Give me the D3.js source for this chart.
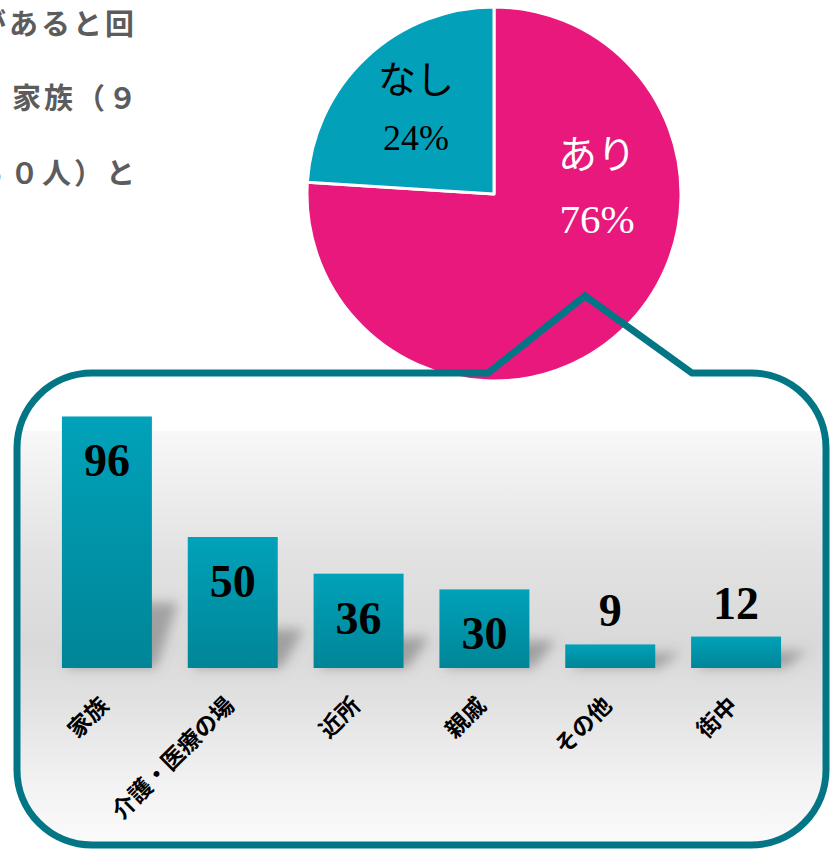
<!DOCTYPE html>
<html>
<head>
<meta charset="utf-8">
<script src="https://cdn.jsdelivr.net/npm/d3@7"></script>
<style>
  html, body { margin: 0; padding: 0; background: #ffffff; }
  svg { display: block; }
</style>
</head>
<body>
<svg id="chart" width="836" height="850"></svg>
<script>
// ---- data ----
const pieLabels = ["あり", "なし"];
const pieValues = [76, 24];
const pieColors = ["#e8187c", "#02a0b9"];

const barCategories = ["家族", "介護・医療の場", "近所", "親戚", "その他", "街中"];
const barValues = [96, 50, 36, 30, 9, 12];

const noteLines = ["があると回", "家族（９", "５０人）と"];

// ---- canvas ----
const svg = d3.select("#chart");
const defs = svg.append("defs");

// bar fill gradient
const barGrad = defs.append("linearGradient")
  .attr("id", "barGrad").attr("x1", 0).attr("y1", 0).attr("x2", 0).attr("y2", 1);
barGrad.append("stop").attr("offset", "0%").attr("stop-color", "#00a2ba");
barGrad.append("stop").attr("offset", "100%").attr("stop-color", "#008597");

// panel background gradient
const panelGrad = defs.append("linearGradient")
  .attr("id", "panelGrad").attr("x1", 0).attr("y1", 0).attr("x2", 0).attr("y2", 1);
[[0, "#f8f8f8"], [0.3, "#e2e2e2"], [0.52, "#d9d9d9"], [0.65, "#e1e1e1"], [0.85, "#f2f2f2"], [1, "#fbfbfb"]]
  .forEach(([o, c]) => panelGrad.append("stop").attr("offset", o).attr("stop-color", c));

// soft shadow blur
defs.append("filter").attr("id", "shadowBlur")
  .attr("x", "-50%").attr("y", "-50%").attr("width", "200%").attr("height", "200%")
  .append("feGaussianBlur").attr("stdDeviation", 6);

// ---- side note text ----
const noteX = [-23, 12, -22];
const noteY = [35, 109, 184];
svg.append("g").selectAll("text").data(noteLines).join("text")
  .attr("x", (d, i) => noteX[i])
  .attr("y", (d, i) => noteY[i])
  .attr("font-family", "'Noto Sans CJK JP', sans-serif")
  .attr("font-weight", 700)
  .attr("font-size", 29)
  .attr("letter-spacing", 3)
  .attr("fill", "#5c5c5c")
  .text(d => d);

// ---- pie ----
const pieCx = 494, pieCy = 194, pieR = 187;
const pie = d3.pie().sort(null).value(d => d)(pieValues);
const arc = d3.arc().innerRadius(0).outerRadius(pieR);

const pieG = svg.append("g").attr("transform", `translate(${pieCx},${pieCy})`);
pieG.selectAll("path").data(pie).join("path")
  .attr("d", arc)
  .attr("fill", (d, i) => pieColors[i])
  .attr("stroke", "#ffffff")
  .attr("stroke-width", 3)
  .attr("stroke-linejoin", "round");

// label offsets from the pie centre: [name, percent]
const pieLabelPos = [
  { x: 103, nameY: -26, pctY: 39, color: "#ffffff", nameSize: 39, pctSize: 41 },
  { x: -78, nameY: -101, pctY: -44, color: "#000000", nameSize: 38, pctSize: 36 }
];
pieG.selectAll("text.name").data(pie).join("text")
  .attr("class", "name")
  .attr("x", (d, i) => pieLabelPos[i].x)
  .attr("y", (d, i) => pieLabelPos[i].nameY)
  .attr("text-anchor", "middle")
  .attr("font-family", "'Noto Sans CJK JP', sans-serif")
  .attr("font-size", (d, i) => pieLabelPos[i].nameSize)
  .attr("fill", (d, i) => pieLabelPos[i].color)
  .text((d, i) => pieLabels[i]);
pieG.selectAll("text.pct").data(pie).join("text")
  .attr("class", "pct")
  .attr("x", (d, i) => pieLabelPos[i].x)
  .attr("y", (d, i) => pieLabelPos[i].pctY)
  .attr("text-anchor", "middle")
  .attr("font-family", "'Liberation Serif', serif")
  .attr("font-size", (d, i) => pieLabelPos[i].pctSize)
  .attr("fill", (d, i) => pieLabelPos[i].color)
  .text(d => d.value + "%");

// ---- callout frame ----
const L = 17, R = 826, T = 373, B = 845, cr = 75;
const notch = { left: 488, peakX: 585, peakY: 296, right: 692 };
const frame = d3.path();
frame.moveTo(L, T + cr);
frame.arcTo(L, T, L + cr, T, cr);
frame.lineTo(notch.left, T);
frame.lineTo(notch.peakX, notch.peakY);
frame.lineTo(notch.right, T);
frame.lineTo(R - cr, T);
frame.arcTo(R, T, R, T + cr, cr);
frame.lineTo(R, B - cr);
frame.arcTo(R, B, R - cr, B, cr);
frame.lineTo(L + cr, B);
frame.arcTo(L, B, L, B - cr, cr);
frame.closePath();
const framePath = frame.toString();

defs.append("clipPath").attr("id", "frameClip").append("path").attr("d", framePath);

// chart panel inside the frame
const panelTop = 431;
svg.append("rect")
  .attr("x", L).attr("y", panelTop)
  .attr("width", R - L).attr("height", B - panelTop)
  .attr("fill", "url(#panelGrad)")
  .attr("clip-path", "url(#frameClip)");

// ---- bar chart ----
const baseY = 668;
const x = d3.scaleBand().domain(barCategories).range([44, 799]).paddingInner(0.285).paddingOuter(0.1425);
const y = d3.scaleLinear().domain([0, 100]).range([baseY, baseY - 262]);

const barData = barCategories.map((c, i) => ({ cat: c, val: barValues[i] }));
const barsG = svg.append("g");

// cast shadows behind each bar
barsG.append("g").attr("filter", "url(#shadowBlur)")
  .selectAll("path").data(barData).join("path")
  .attr("d", d => {
    const x0 = x(d.cat), x1 = x0 + x.bandwidth();
    const h = baseY - y(d.val);
    const sh = 0.22 * h + 10;
    return `M${x0 + 4},${baseY} L${x1 + 4},${baseY} L${x1 + 26},${baseY - sh} L${x0 + 26},${baseY - sh} Z`;
  })
  .attr("fill", "#666666")
  .attr("opacity", 0.5);

barsG.selectAll("rect").data(barData).join("rect")
  .attr("x", d => x(d.cat))
  .attr("y", d => y(d.val))
  .attr("width", x.bandwidth())
  .attr("height", d => baseY - y(d.val))
  .attr("fill", "url(#barGrad)");

// value labels: inside tall bars, above short ones
barsG.selectAll("text.val").data(barData).join("text")
  .attr("class", "val")
  .attr("x", d => x(d.cat) + x.bandwidth() / 2)
  .attr("y", d => (baseY - y(d.val) > 60) ? y(d.val) + 60 : y(d.val) - 18)
  .attr("text-anchor", "middle")
  .attr("font-family", "'Liberation Serif', serif")
  .attr("font-weight", 700)
  .attr("font-size", 46)
  .attr("fill", "#000000")
  .text(d => d.val);

// category labels, rotated
barsG.selectAll("text.cat").data(barData).join("text")
  .attr("class", "cat")
  .attr("transform", d => `translate(${x(d.cat) + x.bandwidth() / 2 + 3},707) rotate(-45)`)
  .attr("text-anchor", "end")
  .attr("font-family", "'Noto Sans CJK JP', sans-serif")
  .attr("font-weight", 700)
  .attr("font-size", 23)
  .attr("fill", "#000000")
  .text(d => d.cat);

// frame outline drawn over the pie and panel
svg.append("path")
  .attr("d", framePath)
  .attr("fill", "none")
  .attr("stroke", "#037686")
  .attr("stroke-width", 7)
  .attr("stroke-linejoin", "miter");
</script>
</body>
</html>
